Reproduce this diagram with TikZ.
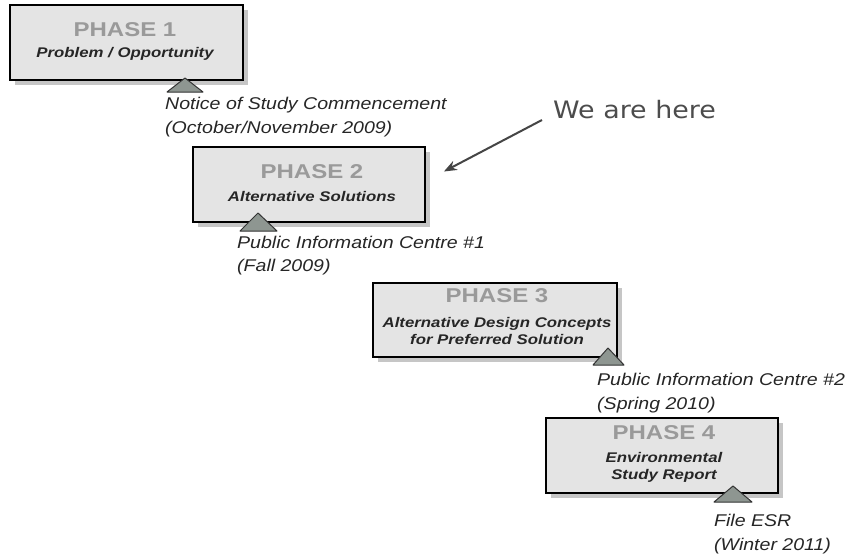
\documentclass[tikz,border=0pt]{standalone}
\usepackage{fontspec}
\setmainfont{Liberation Sans}
\newfontfamily\labfont[FakeStretch=1.15]{Liberation Sans}
\newfontfamily\boxfont[FakeStretch=1.2]{Liberation Sans}
\newfontfamily\wahfont[FakeStretch=1.12]{DejaVu Sans}
\usetikzlibrary{shadows,arrows.meta}
\definecolor{boxfill}{HTML}{E4E4E4}
\definecolor{phasegray}{HTML}{9A9A9A}
\definecolor{trifill}{HTML}{8E9691}
\definecolor{arrowgray}{HTML}{454545}
\tikzset{
  phasebox/.style={draw=black, line width=1.8pt, fill=boxfill, inner sep=0pt,
    copy shadow={shadow xshift=5pt, shadow yshift=-5pt, fill=gray!45, draw=none}},
  phasetitle/.style={font=\boxfont\fontsize{20}{22}\selectfont\bfseries, text=phasegray, inner sep=0pt},
  phasesub/.style={font=\boxfont\fontsize{14}{17}\selectfont\bfseries\itshape, align=center, inner sep=0pt, text=black!85},
  milestone/.style={font=\labfont\fontsize{17}{23.5}\selectfont\itshape, align=left, inner sep=0pt, anchor=west, text=black!85},
  marker/.style={fill=trifill, draw=black!80, line width=1pt, line join=round}
}
\begin{document}
\begin{tikzpicture}[x=1pt,y=-1pt]
\useasboundingbox[fill=white] (0,0) rectangle (852,554);

% boxes
\node[phasebox, minimum width=233pt, minimum height=75pt] (b1) at (126.5,42.5) {};
\node[phasebox, minimum width=232pt, minimum height=75pt] (b2) at (309,184.5) {};
\node[phasebox, minimum width=244pt, minimum height=74pt] (b3) at (495,320) {};
\node[phasebox, minimum width=232pt, minimum height=75pt] (b4) at (662,455.5) {};

% box texts
\node[phasetitle] (p1) at (125,30) {PHASE 1};
\node[phasesub] (s1) at (125,54) {Problem / Opportunity};
\node[phasetitle] (p2) at (312,172) {PHASE 2};
\node[phasesub] (s2) at (312,196) {Alternative Solutions};
\node[phasetitle] (p3) at (497,296) {PHASE 3};
\node[phasesub] (s3) at (497,331) {Alternative Design Concepts\\for Preferred Solution};
\node[phasetitle] (p4) at (664,433) {PHASE 4};
\node[phasesub] (s4) at (664,467) {Environmental\\Study Report};

% milestone markers
\draw[marker] (185,78) -- (203,92) -- (167,92) -- cycle;
\draw[marker] (258,213) -- (277,231) -- (240,231) -- cycle;
\draw[marker] (608,348) -- (624,365) -- (593,365) -- cycle;
\draw[marker] (733,486) -- (752,502) -- (714,502) -- cycle;

% milestone labels
\node[milestone] (l1) at (165,117) {Notice of Study Commencement\\(October/November 2009)};
\node[milestone] (l2) at (237,255.5) {Public Information Centre \#1\\(Fall 2009)};
\node[milestone] (l3) at (597,393) {Public Information Centre \#2\\(Spring 2010)};
\node[milestone] (l4) at (714,534) {File ESR\\(Winter 2011)};

% we are here
\node[font=\wahfont\fontsize{24}{27}\selectfont, text=black!70, inner sep=0pt, anchor=west] (wah) at (553,110) {We are here};
\draw[arrowgray, line width=2pt, -{Stealth[length=13pt,width=10pt]}]
  ([xshift=-11pt,yshift=-10pt]wah.west) -- ([xshift=18pt,yshift=13pt]b2.east);
\end{tikzpicture}
\end{document}
